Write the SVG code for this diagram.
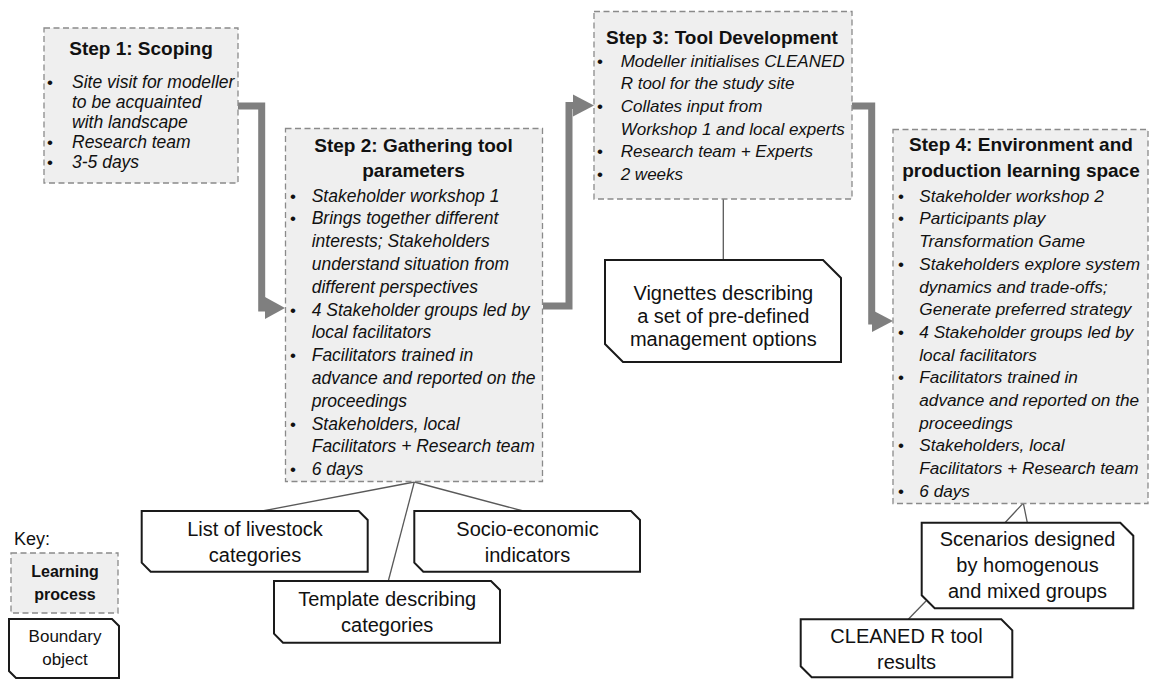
<svg xmlns="http://www.w3.org/2000/svg" width="1151" height="679" viewBox="0 0 1151 679">
<style>
.step{fill:#efefef;stroke:#8a8a8a;stroke-width:1.3;stroke-dasharray:6 3.5}
.bo{fill:#ffffff;stroke:#1a1a1a;stroke-width:2}
.t{font-family:"Liberation Sans",Arial,sans-serif;fill:#111}
.title{font-size:19px;font-weight:bold;text-anchor:middle}
.it{font-size:17.5px;font-style:italic}
.it3{font-size:17px;font-style:italic}
.it4{font-size:17.2px;font-style:italic}
.bul{font-size:17px}
.bot{font-size:20px;text-anchor:middle}
.arrow{fill:none;stroke:#7f7f7f;stroke-width:7;stroke-linejoin:miter}
.head{fill:#7f7f7f}
.thin{stroke:#595959;stroke-width:1.3;fill:none}
</style>
<g id="connectors">
<polyline class="arrow" points="238,106 261.7,106 261.7,308 267,308"/>
<polygon class="head" points="265,297 285,308 265,319"/>
<polyline class="arrow" points="543,306 569,306 569,105.5 575,105.5"/>
<polygon class="head" points="573,94.5 594,105.5 573,116.5"/>
<polyline class="arrow" points="852,106 871.7,106 871.7,321 874,321"/>
<polygon class="head" points="872,310 893,321 872,332"/>
<line class="thin" x1="414.3" y1="482" x2="262.3" y2="511"/>
<line class="thin" x1="414.3" y1="482" x2="523.3" y2="511"/>
<line class="thin" x1="414.3" y1="482" x2="388.3" y2="581"/>
<line class="thin" x1="723.3" y1="199" x2="723.3" y2="260"/>
<polyline class="thin" points="1005,522.7 1023.3,503 1027.3,522.7"/>
<line class="thin" x1="926" y1="601" x2="908.3" y2="619.3"/>
</g>
<g id="step1">
<rect class="step" x="44" y="28" width="194" height="155"/>
<text class="t title" x="141" y="54.5">Step 1: Scoping</text>
<text class="t bul" x="47" y="88">•</text>
<text class="t it" x="72" y="88">Site visit for modeller</text>
<text class="t it" x="72" y="108">to be acquainted</text>
<text class="t it" x="72" y="128">with landscape</text>
<text class="t bul" x="47" y="148">•</text>
<text class="t it" x="72" y="148">Research team</text>
<text class="t bul" x="47" y="168">•</text>
<text class="t it" x="72" y="168">3-5 days</text>
</g>
<g id="step2">
<rect class="step" x="285.5" y="128.5" width="257" height="353"/>
<text class="t title" x="413.5" y="151.7">Step 2: Gathering tool</text>
<text class="t title" x="413.5" y="177">parameters</text>
<text class="t bul" x="290" y="201.5">•</text>
<text class="t it" x="311.7" y="201.5">Stakeholder workshop 1</text>
<text class="t bul" x="290" y="224.3">•</text>
<text class="t it" x="311.7" y="224.3">Brings together different</text>
<text class="t it" x="311.7" y="247.1">interests; Stakeholders</text>
<text class="t it" x="311.7" y="269.9">understand situation from</text>
<text class="t it" x="311.7" y="292.7">different perspectives</text>
<text class="t bul" x="290" y="315.5">•</text>
<text class="t it" x="311.7" y="315.5">4 Stakeholder groups led by</text>
<text class="t it" x="311.7" y="338.3">local facilitators</text>
<text class="t bul" x="290" y="361.1">•</text>
<text class="t it" x="311.7" y="361.1">Facilitators trained in</text>
<text class="t it" x="311.7" y="383.9">advance and reported on the</text>
<text class="t it" x="311.7" y="406.7">proceedings</text>
<text class="t bul" x="290" y="429.5">•</text>
<text class="t it" x="311.7" y="429.5">Stakeholders, local</text>
<text class="t it" x="311.7" y="452.3">Facilitators + Research team</text>
<text class="t bul" x="290" y="475.1">•</text>
<text class="t it" x="311.7" y="475.1">6 days</text>
</g>
<g id="step3">
<rect class="step" x="594" y="11.5" width="258" height="187.5"/>
<text class="t title" x="722" y="43.5">Step 3: Tool Development</text>
<text class="t bul" x="597" y="66.7">•</text>
<text class="t it3" x="620.7" y="66.7">Modeller initialises CLEANED</text>
<text class="t it3" x="620.7" y="89.3">R tool for the study site</text>
<text class="t bul" x="597" y="111.9">•</text>
<text class="t it3" x="620.7" y="111.9">Collates input from</text>
<text class="t it3" x="620.7" y="134.5">Workshop 1 and local experts</text>
<text class="t bul" x="597" y="157.1">•</text>
<text class="t it3" x="620.7" y="157.1">Research team + Experts</text>
<text class="t bul" x="597" y="179.7">•</text>
<text class="t it3" x="620.7" y="179.7">2 weeks</text>
</g>
<g id="step4">
<rect class="step" x="893" y="129.5" width="255" height="374"/>
<text class="t title" x="1021" y="150.7">Step 4: Environment and</text>
<text class="t title" x="1021" y="176.7">production learning space</text>
<text class="t bul" x="898" y="201.7">•</text>
<text class="t it4" x="919.3" y="201.7">Stakeholder workshop 2</text>
<text class="t bul" x="898" y="224.4">•</text>
<text class="t it4" x="919.3" y="224.4">Participants play</text>
<text class="t it4" x="919.3" y="247.1">Transformation Game</text>
<text class="t bul" x="898" y="269.8">•</text>
<text class="t it4" x="919.3" y="269.8">Stakeholders explore system</text>
<text class="t it4" x="919.3" y="292.5">dynamics and trade-offs;</text>
<text class="t it4" x="919.3" y="315.2">Generate preferred strategy</text>
<text class="t bul" x="898" y="337.9">•</text>
<text class="t it4" x="919.3" y="337.9">4 Stakeholder groups led by</text>
<text class="t it4" x="919.3" y="360.6">local facilitators</text>
<text class="t bul" x="898" y="383.3">•</text>
<text class="t it4" x="919.3" y="383.3">Facilitators trained in</text>
<text class="t it4" x="919.3" y="406">advance and reported on the</text>
<text class="t it4" x="919.3" y="428.7">proceedings</text>
<text class="t bul" x="898" y="451.4">•</text>
<text class="t it4" x="919.3" y="451.4">Stakeholders, local</text>
<text class="t it4" x="919.3" y="474.1">Facilitators + Research team</text>
<text class="t bul" x="898" y="496.8">•</text>
<text class="t it4" x="919.3" y="496.8">6 days</text>
</g>
<g id="bo-livestock">
<path class="bo" d="M141.7,511 H358.7 L367.7,520 V571.7 H150.7 L141.7,562.7 Z"/>
<text class="t bot" x="255" y="535.7">List of livestock</text>
<text class="t bot" x="255" y="561.7">categories</text>
</g>
<g id="bo-socio">
<path class="bo" d="M414.3,511 H631 L640,520 V571.7 H423.3 L414.3,562.7 Z"/>
<text class="t bot" x="527.5" y="535.7">Socio-economic</text>
<text class="t bot" x="527.5" y="561.7">indicators</text>
</g>
<g id="bo-template">
<path class="bo" d="M274,581 H491 L500,590 V642.7 H283 L274,633.7 Z"/>
<text class="t bot" x="387.2" y="606">Template describing</text>
<text class="t bot" x="387.2" y="631.7">categories</text>
</g>
<g id="bo-vignettes">
<path class="bo" d="M605,260 H823 L841,278 V362 H623 L605,344 Z"/>
<text class="t bot" x="723.3" y="300">Vignettes describing</text>
<text class="t bot" x="723.3" y="323">a set of pre-defined</text>
<text class="t bot" x="723.3" y="346">management options</text>
</g>
<g id="bo-scenarios">
<path class="bo" d="M921.7,522.7 H1120.3 L1133.3,535.7 V608.3 H934.7 L921.7,595.3 Z"/>
<text class="t bot" x="1027.5" y="545.7">Scenarios designed</text>
<text class="t bot" x="1027.5" y="571.7">by homogenous</text>
<text class="t bot" x="1027.5" y="597.7">and mixed groups</text>
</g>
<g id="bo-results">
<path class="bo" d="M800.7,619.3 H1001.3 L1012.3,630.3 V677.3 H811.7 L800.7,666.3 Z"/>
<text class="t bot" x="906.5" y="643">CLEANED R tool</text>
<text class="t bot" x="906.5" y="669">results</text>
</g>
<g id="key">
<text class="t" x="14" y="545" font-size="18">Key:</text>
<rect class="step" x="11" y="553" width="107" height="60"/>
<text class="t" x="65" y="577" font-size="16" font-weight="bold" text-anchor="middle">Learning</text>
<text class="t" x="65" y="600" font-size="16" font-weight="bold" text-anchor="middle">process</text>
<path class="bo" d="M9,619 H112 L119,626 V678 H16 L9,671 Z"/>
<text class="t" x="65" y="642" font-size="17" text-anchor="middle">Boundary</text>
<text class="t" x="65" y="665" font-size="17" text-anchor="middle">object</text>
</g>
</svg>
